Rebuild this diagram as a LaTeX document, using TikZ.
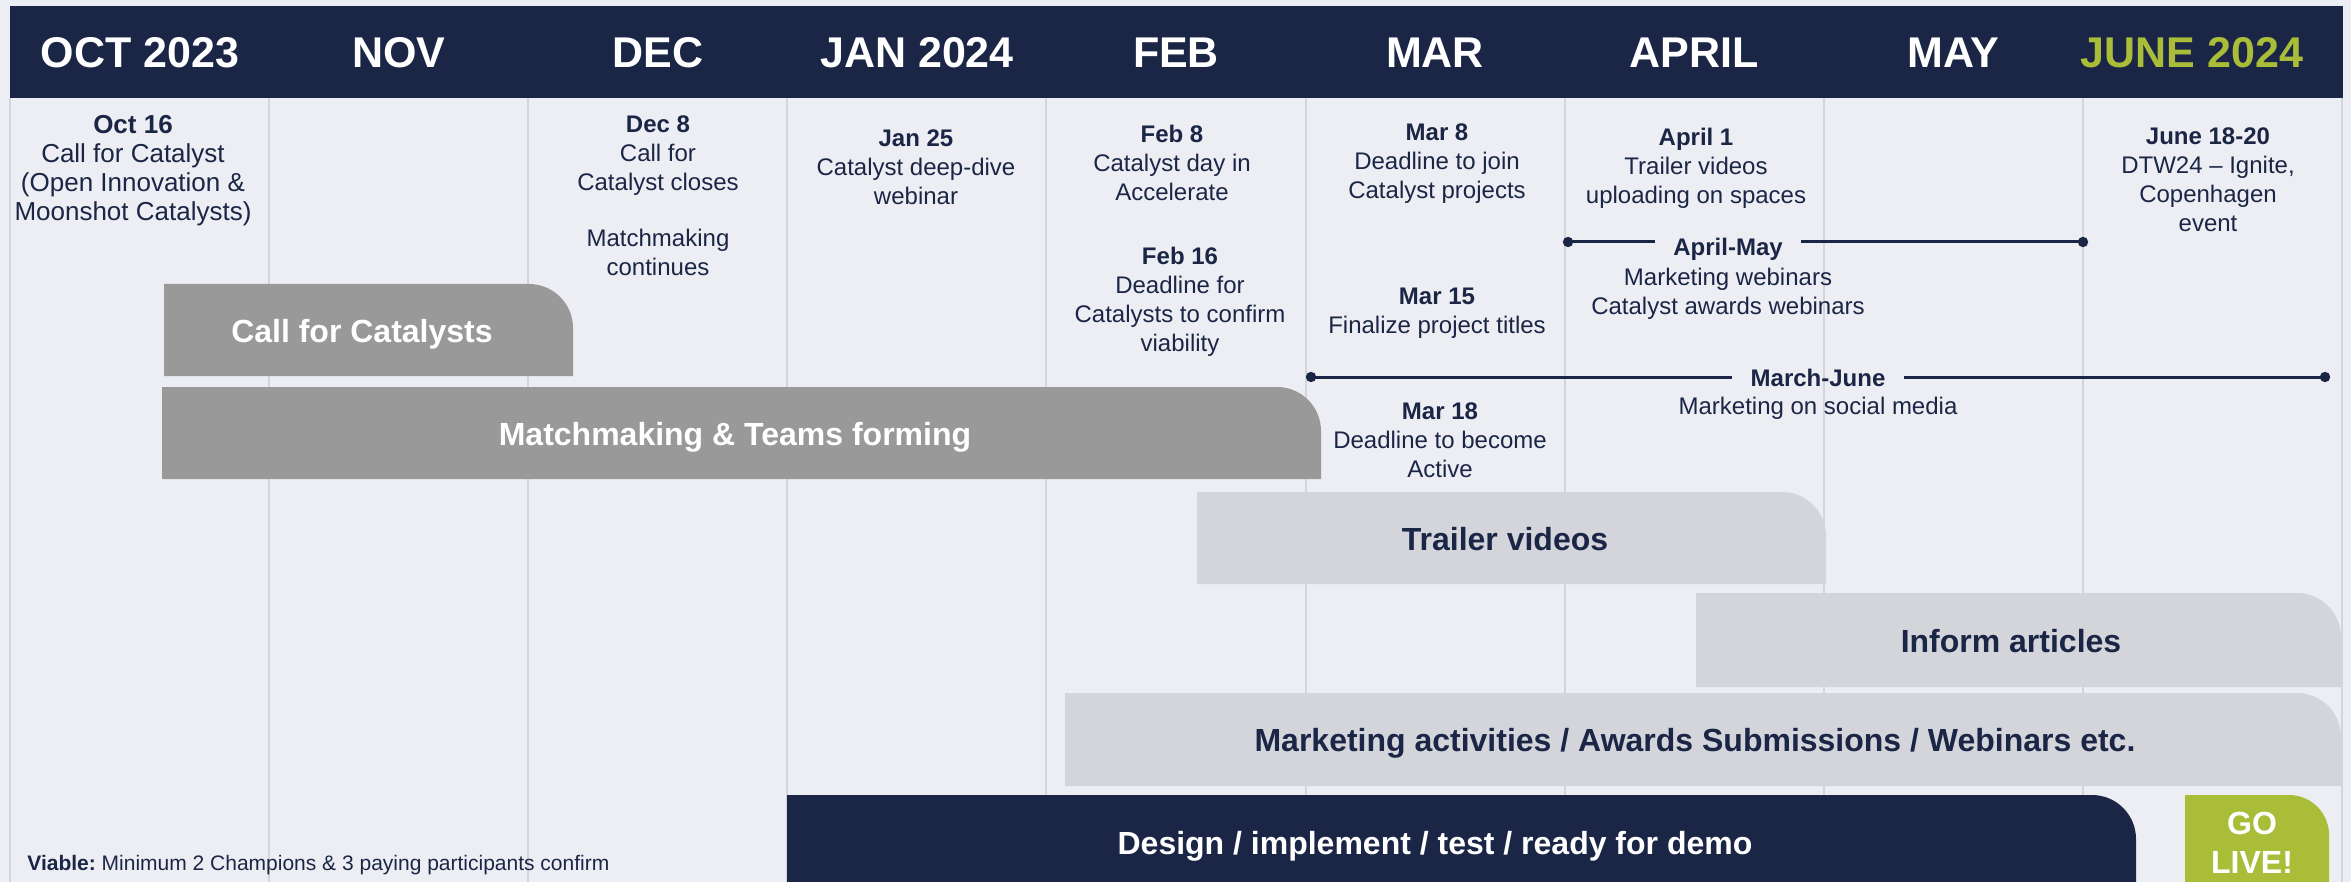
\documentclass[tikz,border=0pt]{standalone}
\usepackage{fontspec}
\setmainfont{Liberation Sans}
\definecolor{navy}{HTML}{1B2646}
\definecolor{pagebg}{HTML}{EDEEF3}
\definecolor{gridgray}{HTML}{D3D5DB}
\definecolor{midgray}{HTML}{999999}
\definecolor{lightbar}{HTML}{D3D5DA}
\definecolor{limegreen}{HTML}{A9BD38}

% A bar whose top-right corner is rounded: colour, x1, y1, x2, y2, radius
\newcommand\cornerbar[6]{%
  \fill[#1] (#2,#5) -- (#2,#3) -- ({#4-#6},#3)
    .. controls ({#4-0.448*#6},#3) and (#4,{#3+0.448*#6}) .. (#4,{#3+#6})
    -- (#4,#5) -- cycle;}

\begin{document}
\begin{tikzpicture}[x=0.5pt,y=-0.5pt,
  month/.style={anchor=base, text=white, font=\fontsize{21.5}{26}\selectfont\bfseries},
  note/.style={align=center, text=navy, font=\fontsize{12}{14.5}\selectfont, inner sep=0pt},
  spantitle/.style={text=navy, font=\fontsize{12}{14.5}\selectfont\bfseries, inner ysep=0pt, inner xsep=9pt},
  barlabel/.style={font=\fontsize{16}{19.5}\selectfont\bfseries, align=center, inner sep=0pt},
  gridline/.style={draw=gridgray, line width=1pt},
  spanline/.style={draw=navy, line width=1.5pt},
  enddot/.style={fill=navy},
]
\useasboundingbox (0,0) rectangle (2351,882);
\fill[pagebg] (0,0) rectangle (2351,882);

% month grid
\foreach \i in {0,...,9}
  \draw[gridline] ({10+259.1*\i},98) -- ({10+259.1*\i},882);

% header band with the months
\fill[navy] (10,6) rectangle (2343,98);
\node[month] (mOct) at (140,68) {OCT 2023};
\node[month] (mNov) at (399,68) {NOV};
\node[month] (mDec) at (658,68) {DEC};
\node[month] (mJan) at (917,68) {JAN 2024};
\node[month] (mFeb) at (1176,68) {FEB};
\node[month] (mMar) at (1435,68) {MAR};
\node[month] (mApr) at (1694,68) {APRIL};
\node[month] (mMay) at (1953,68) {MAY};
\node[month, text=limegreen] (mJun) at (2192,68) {JUNE 2024};

% milestones
\node[note, font=\fontsize{13}{14.5}\selectfont] (oct16) at (133,170.5) {\textbf{Oct 16}\\Call for Catalyst\\(Open Innovation \&\\Moonshot Catalysts)};
\node[note] (dec8) at (658,196) {\textbf{Dec 8}\\Call for\\Catalyst closes\\[13.5pt]Matchmaking\\continues};
\node[note] (jan25) at (916,167) {\textbf{Jan 25}\\Catalyst deep-dive\\webinar};
\node[note] (feb8) at (1172,163) {\textbf{Feb 8}\\Catalyst day in\\Accelerate};
\node[note] (feb16) at (1180,302) {\textbf{Feb 16}\\Deadline for\\Catalysts to confirm\\viability};
\node[note] (mar8) at (1437,163.5) {\textbf{Mar 8}\\Deadline to join\\Catalyst projects};
\node[note] (mar15) at (1437,313) {\textbf{Mar 15}\\Finalize project titles};
\node[note] (mar18) at (1440,440) {\textbf{Mar 18}\\Deadline to become\\Active};
\node[note] (apr1) at (1696,168.5) {\textbf{April 1}\\Trailer videos\\uploading on spaces};
\node[note] (jun18) at (2208,180) {\textbf{June 18-20}\\DTW24 – Ignite,\\Copenhagen\\event};

% April-May span
\coordinate (amA) at (1568,242);
\coordinate (amB) at (2083,242);
\node[spantitle] (amT) at (1728,249) {April-May};
\node[note] (amD) at (1728,293.5) {Marketing webinars\\Catalyst awards webinars};
\draw[spanline] (amA) -- (amA -| amT.west);
\draw[spanline] (amT.east |- amB) -- (amB);
\fill[enddot] (amA) circle[radius=2.6pt];
\fill[enddot] (amB) circle[radius=2.6pt];

% March-June span
\coordinate (mjA) at (1311,377);
\coordinate (mjB) at (2325,377);
\node[spantitle] (mjT) at (1818,378) {March-June};
\node[note] (mjD) at (1818,408) {Marketing on social media};
\draw[spanline] (mjA) -- (mjA -| mjT.west);
\draw[spanline] (mjT.east |- mjB) -- (mjB);
\fill[enddot] (mjA) circle[radius=2.6pt];
\fill[enddot] (mjB) circle[radius=2.6pt];

% activity bars
\cornerbar{midgray}{164}{284}{573}{376}{44}
\node[barlabel, text=white] (cfc) at (362,334) {Call for Catalysts};
\cornerbar{midgray}{162}{387}{1321}{479}{44}
\node[barlabel, text=white] (mm) at (735,437) {Matchmaking \& Teams forming};
\cornerbar{lightbar}{1197}{492}{1826}{584}{44}
\node[barlabel, text=navy] (tv) at (1505,539) {Trailer videos};
\cornerbar{lightbar}{1696}{593}{2341}{687}{44}
\node[barlabel, text=navy] (ia) at (2011,641) {Inform articles};
\cornerbar{lightbar}{1065}{693}{2341}{786}{44}
\node[barlabel, text=navy] (ma) at (1695,743) {Marketing activities / Awards Submissions / Webinars etc.};
\cornerbar{navy}{787}{795}{2136}{882}{44}
\node[barlabel, text=white] (dit) at (1435,846) {Design / implement / test / ready for demo};
\cornerbar{limegreen}{2185}{795}{2329}{882}{40}
\node[barlabel, text=white] (gl) at (2252,843) {GO\\LIVE!};

% footnote
\node[anchor=west, text=navy, inner sep=0pt, font=\fontsize{10.5}{12.5}\selectfont] (viable) at (27,865)
  {\textbf{Viable:}~Minimum 2 Champions \& 3 paying participants confirm};
\end{tikzpicture}
\end{document}
